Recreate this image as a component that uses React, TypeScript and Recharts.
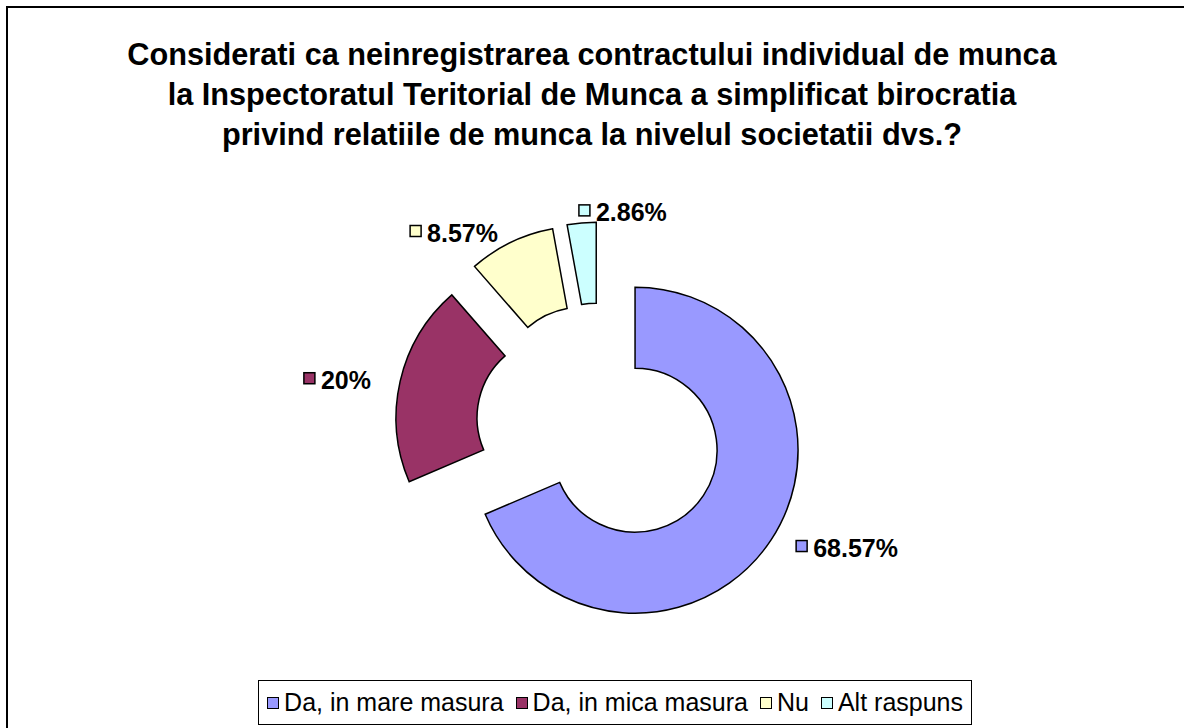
import { PieChart, Pie, Cell, Legend, Sector } from 'recharts';

const categories = ['Da, in mare masura', 'Da, in mica masura', 'Nu', 'Alt raspuns'];
const shares = [68.57, 20, 8.57, 2.86];
const colors = ['#9999FF', '#993366', '#FFFFCC', '#CCFFFF'];
const titleLines = [
  'Considerati ca neinregistrarea contractului individual de munca',
  'la Inspectoratul Teritorial de Munca a simplificat birocratia',
  'privind relatiile de munca la nivelul societatii dvs.?',
];

const data = categories.map((name, i) => ({ name, value: shares[i] }));

const FONT = '"Liberation Sans", Arial, sans-serif';
const RAD = Math.PI / 180;
const EXPLODE = 42;

// rough width of bold 25px digits text
function textWidth(s: string) {
  let w = 0;
  for (const ch of s) {
    if (ch === '.') w += 7;
    else if (ch === '%') w += 22.2;
    else w += 13.9;
  }
  return w;
}

function ExplodedSector(props: any) {
  const { cx, cy, midAngle } = props;
  const dx = EXPLODE * Math.cos(-midAngle * RAD);
  const dy = EXPLODE * Math.sin(-midAngle * RAD);
  return <Sector {...props} cx={cx + dx} cy={cy + dy} />;
}

// labels sit on an ellipse around the exploded slice centre, box edge touching it
function renderLabel(props: any) {
  const { cx, cy, midAngle, outerRadius, index, value } = props;
  const cos = Math.cos(-midAngle * RAD);
  const sin = Math.sin(-midAngle * RAD);
  const text = `${value}%`;
  const w = 17 + textWidth(text);
  const sx = cx + EXPLODE * cos;
  const sy = cy + EXPLODE * sin;
  const px = sx + (outerRadius + 30) * cos;
  const py = sy + (outerRadius + 12) * sin;
  const left = cos < -0.1 ? px - w : px;
  return (
    <g>
      <rect x={left} y={py - 6} width={11} height={11} fill={colors[index]} stroke="#000" strokeWidth={1.5} />
      <text x={left + 17} y={py + 1} dominantBaseline="central" fontFamily={FONT} fontWeight="bold" fontSize={25} fill="#000">
        {text}
      </text>
    </g>
  );
}

function LegendBox() {
  return (
    <div style={{
      display: 'inline-flex', alignItems: 'center', height: 45, boxSizing: 'border-box',
      border: '1.5px solid #000', padding: '0 8px 0 8px', background: '#fff',
      fontFamily: FONT, fontSize: 25, color: '#000', whiteSpace: 'nowrap',
    }}>
      {categories.map((name, i) => (
        <span key={name} style={{ display: 'inline-flex', alignItems: 'center', marginRight: i < categories.length - 1 ? 12 : 0 }}>
          <span style={{ width: 10, height: 10, border: '1.5px solid #000', background: colors[i], marginRight: 5, display: 'inline-block' }} />
          {name}
        </span>
      ))}
    </div>
  );
}

export default function App() {
  return (
    <div style={{
      position: 'absolute', left: 6, top: 6, width: 1178, height: 722, boxSizing: 'border-box',
      borderLeft: '2px solid #000', borderTop: '2px solid #000', background: '#fff',
    }}>
      <div style={{
        position: 'absolute', left: 0, top: 27, width: 1168, textAlign: 'center',
        fontFamily: FONT, fontWeight: 'bold', fontSize: 30.7, lineHeight: '40px', color: '#000',
      }}>
        {titleLines.map((l, i) => <div key={i}>{l}</div>)}
      </div>
      <PieChart width={1176} height={720} margin={{ top: 0, right: 0, bottom: 0, left: 0 }}>
        <Pie
          data={data}
          dataKey="value"
          nameKey="name"
          cx={592}
          cy={419}
          innerRadius={82}
          outerRadius={163}
          startAngle={90}
          endAngle={-270}
          stroke="#000"
          strokeWidth={1.5}
          shape={ExplodedSector}
          activeShape={ExplodedSector}
          label={renderLabel}
          labelLine={false}
          isAnimationActive={false}
        >
          {data.map((d, i) => <Cell key={d.name} fill={colors[i]} />)}
        </Pie>
        <Legend
          content={<LegendBox />}
          wrapperStyle={{ position: 'absolute', right: 212, left: 'auto', top: 672, width: 'auto', bottom: 'auto' }}
        />
      </PieChart>
    </div>
  );
}
